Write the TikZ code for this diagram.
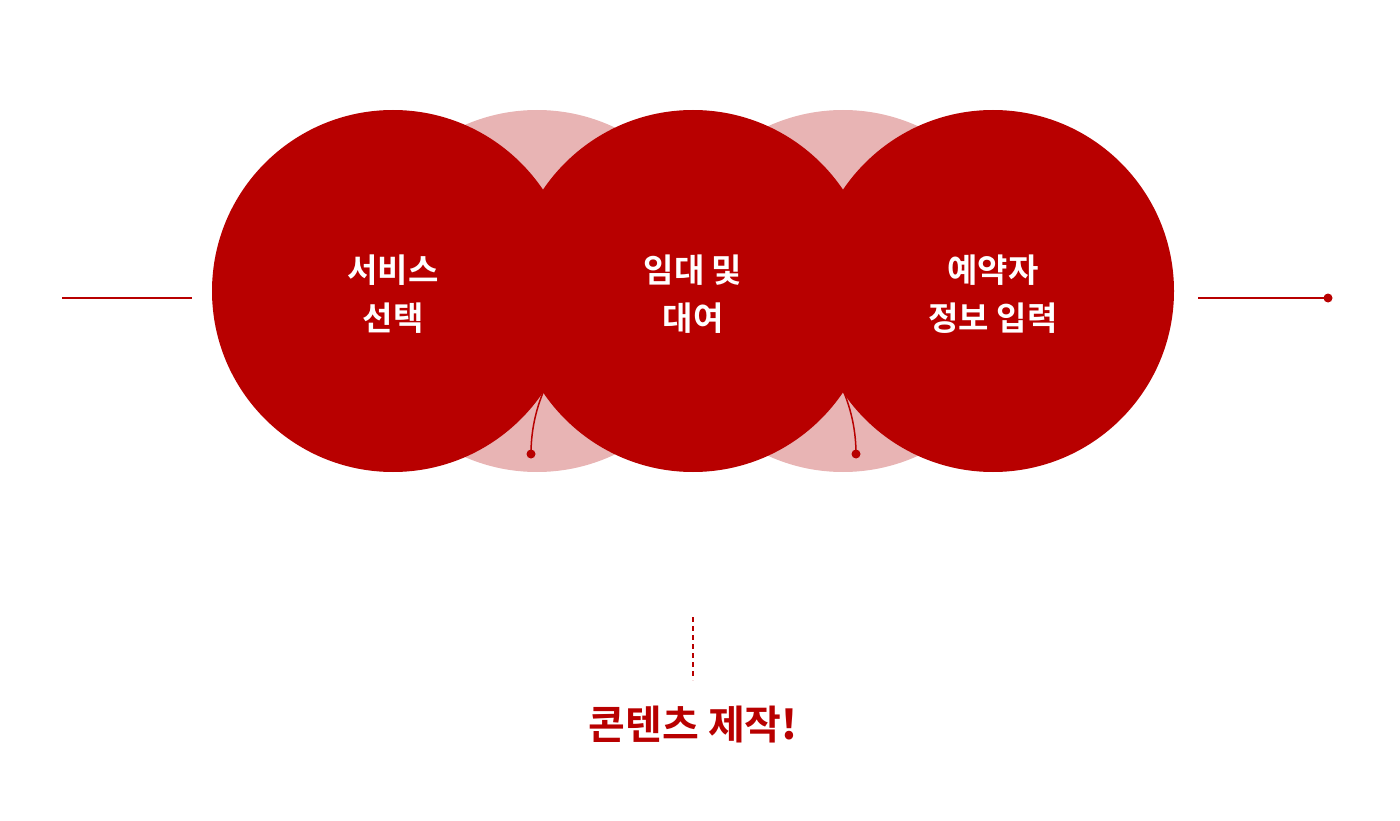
\documentclass[tikz,border=0pt]{standalone}
\usepackage{fontspec}
\setmainfont{Noto Sans CJK KR}[BoldFont={* Bold}]
\definecolor{dred}{HTML}{B80000}
\definecolor{lpink}{HTML}{E8B4B4}
\begin{document}
\begin{tikzpicture}[x=1pt,y=-1pt,
  big/.style={circle,fill=dred,minimum size=362pt,inner sep=0pt},
  back/.style={circle,fill=lpink,minimum size=362pt,inner sep=0pt},
  lbl/.style={text=white,font=\fontsize{33}{48}\selectfont\bfseries,align=center},
  dot/.style={circle,fill=dred,inner sep=0pt,minimum size=9pt}]
\useasboundingbox (0,0) rectangle (1400,821);
\node[back] (p1) at (537,291) {};
\node[back] (p2) at (843,291) {};
\node[big] (c1) at (393,291) {};
\node[big] (c2) at (693,291) {};
\node[big] (c3) at (993,291) {};
\node[lbl] (t1) at (393,294) {서비스\\선택};
\node[lbl] (t2) at (693,294) {임대 및\\대여};
\node[lbl] (t3) at (993,294) {예약자\\정보 입력};
\coordinate (l1) at (62,298); \coordinate (l2) at (192,298);
\draw[dred,line width=1.2pt] (l1) -- (l2);
\coordinate (r1) at (1198,298);
\node[dot] (r2) at (1328,298) {};
\draw[dred,line width=1.2pt] (r1) -- (r2.center);
\node[dot] (d1) at (531,454) {};
\node[dot] (d2) at (856,454) {};
\draw[dred,line width=1.5pt] (d1.center) arc[start angle=180,end angle=360,radius=162.5];
\coordinate (b) at (693,617);
\node (t) at (693,725) {\textcolor{dred}{\fontsize{40}{48}\selectfont\bfseries 콘텐츠 제작\textit{!}}};
\draw[dred,line width=1.2pt,dash pattern=on 5pt off 4pt] (b) -- (693,680);
\end{tikzpicture}
\end{document}
